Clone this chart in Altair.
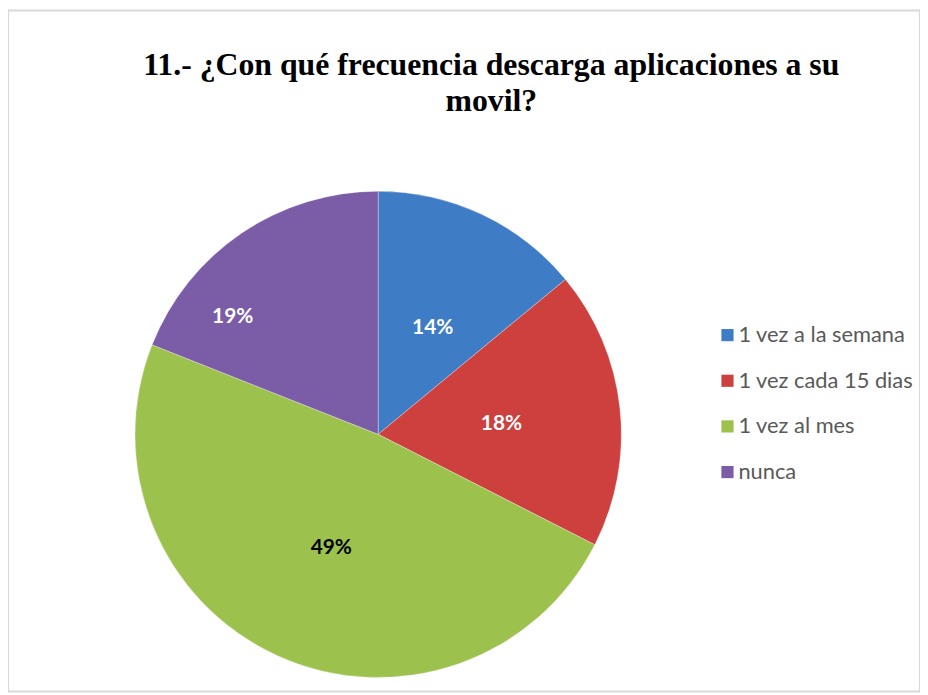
import altair as alt
import pandas as pd

categories = ["1 vez a la semana", "1 vez cada 15 dias", "1 vez al mes", "nunca"]
values = [14, 18.5, 48.5, 19]
labels = ["14%", "18%", "49%", "19%"]
colors = ["#3e7cc5", "#cd403d", "#9cc14d", "#7b5ca7"]
title_lines = ["11.- ¿Con qué frecuencia descarga aplicaciones a su", "movil?"]

df = pd.DataFrame({
    "cat": categories,
    "value": values,
    "label": labels,
    "order": list(range(len(categories))),
})

base = alt.Chart(df).encode(
    theta=alt.Theta("value:Q", stack=True),
    order=alt.Order("order:Q"),
)

pie = base.mark_arc(radius=245, stroke="#ffffff", strokeWidth=0.6, strokeOpacity=0.5).encode(
    color=alt.Color(
        "cat:N",
        scale=alt.Scale(domain=categories, range=colors),
        sort=categories,
        legend=alt.Legend(
            title=None,
            orient="none",
            legendX=714,
            legendY=316,
            symbolType="square",
            symbolSize=150,
            symbolStrokeWidth=0,
            labelFont="Lato",
            labelFontSize=22,
            labelColor="#595959",
            labelOffset=0,
            labelLimit=400,
            rowPadding=24,
        ),
    ),
    x=alt.value(373),
    y=alt.value(427),
)

text = base.mark_text(
    radius=122,
    font="Lato",
    fontSize=21,
    fontWeight="bold",
    dx={"expr": "datum.cat === 'nunca' ? -78 : 3"},
    dy={"expr": "datum.cat === 'nunca' ? -17 : 3"},
).encode(
    text="label:N",
    color=alt.condition(alt.datum.cat == "1 vez al mes", alt.value("#000000"), alt.value("#ffffff")),
    x=alt.value(373),
    y=alt.value(427),
)

title_df = pd.DataFrame({"t": [title_lines]})
title = alt.Chart(title_df).mark_text(
    font="Liberation Serif",
    fontSize=32,
    fontWeight="bold",
    lineHeight=36,
    align="center",
    baseline="alphabetic",
    color="#000000",
).encode(
    text="t",
    x=alt.value(487),
    y=alt.value(65),
)

chart = alt.layer(pie, text, title).properties(
    width=919,
    height=686,
    padding=0,
    autosize=alt.AutoSizeParams(type="none"),
).configure_view(stroke="#d9d9d9", strokeWidth=2)

chart.save("out.html", embed_options={"renderer": "svg", "actions": False})
